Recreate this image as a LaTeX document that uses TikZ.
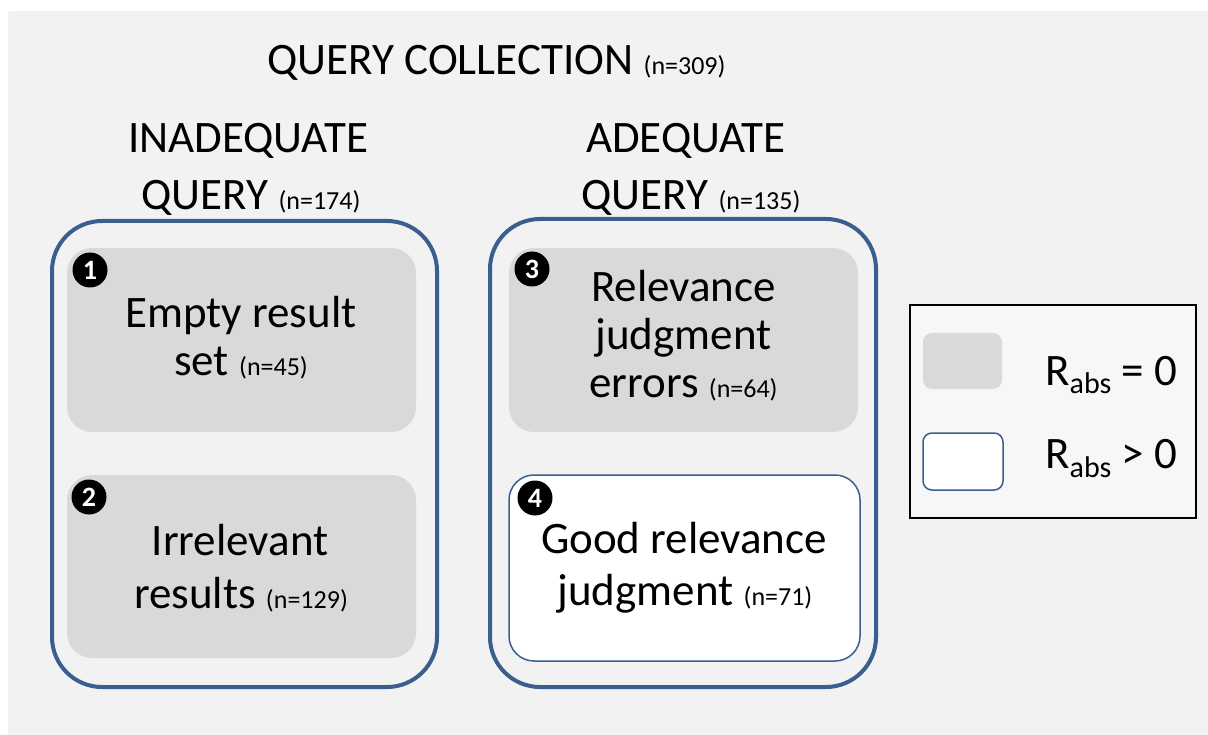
\documentclass[tikz,border=0pt]{standalone}
\usepackage{fontspec}
\setmainfont{Carlito}
\definecolor{bggray}{HTML}{F2F2F2}
\definecolor{boxgray}{HTML}{D9D9D9}
\definecolor{qblue}{RGB}{58,95,142}
\definecolor{legfill}{HTML}{F7F7F7}
\newcommand{\bigtxt}{\fontsize{45}{47}\selectfont}
\newcommand{\smalltxt}{\fontsize{26}{28}\selectfont}
\begin{document}
\begin{tikzpicture}[x=1pt,y=-1pt,
  outerbox/.style={draw=qblue, line width=4pt, rounded corners=50pt, inner sep=0pt},
  innerbox/.style={fill=boxgray, rounded corners=25pt, inner sep=0pt, minimum width=349pt, minimum height=184pt},
  whitebox/.style={fill=white, draw=qblue, line width=1.5pt, rounded corners=25pt, inner sep=0pt, minimum width=351pt, minimum height=186pt},
  txt/.style={font=\bigtxt, anchor=base, inner sep=0pt},
  numdot/.style={circle, fill=black, text=white, inner sep=0pt, minimum size=35pt, font=\fontsize{28}{28}\selectfont\bfseries},
  swatch/.style={rounded corners=9pt, inner sep=0pt, minimum width=80pt, minimum height=57pt}
]
\useasboundingbox (0,0) rectangle (1208,735);
\node[fill=bggray, rounded corners=2pt, anchor=north west, inner sep=0pt, minimum width=1205pt, minimum height=728pt] (bg) at (8,11) {};

% title
\node[txt] (title) at (496.5,75) {QUERY COLLECTION {\smalltxt (n=309)}};

% headers
\node[txt] (inadA) at (248,153) {INADEQUATE};
\node[txt] (inadB) at (251,210) {QUERY {\smalltxt (n=174)}};
\node[txt] (adA) at (686,153) {ADEQUATE};
\node[txt] (adB) at (691,210) {QUERY {\smalltxt (n=135)}};

% outer boxes
\node[outerbox, minimum width=385pt, minimum height=466pt] (left) at (244.5,454) {};
\node[outerbox, minimum width=386pt, minimum height=468pt] (right) at (683,453) {};

% inner boxes
\node[innerbox] (b1) at (241.5,340) {};
\node[innerbox, minimum height=183pt] (b2) at (241.5,566.5) {};
\node[innerbox] (b3) at (683.5,340) {};
\node[whitebox] (b4) at (684.5,568) {};

% numbers
\node[numdot] (n1) at (90,270) {1};
\node[numdot] (n2) at (89,497) {2};
\node[numdot] (n3) at (532,269) {3};
\node[numdot] (n4) at (535,498) {4};

% box texts
\node[txt] (b1a) at (241,328) {Empty result};
\node[txt] (b1b) at (241,375) {set {\smalltxt (n=45)}};
\node[txt] (b2a) at (240,555) {Irrelevant};
\node[txt] (b2b) at (241,608) {results {\smalltxt (n=129)}};
\node[txt] (b3a) at (683.5,302) {Relevance};
\node[txt] (b3b) at (683.5,350) {judgment};
\node[txt] (b3c) at (683.5,397) {errors {\smalltxt (n=64)}};
\node[txt] (b4a) at (684,553) {Good relevance};
\node[txt] (b4b) at (685,605) {judgment {\smalltxt (n=71)}};

% legend
\node[draw=black, line width=1.5pt, fill=legfill, inner sep=0pt, minimum width=286pt, minimum height=213pt] (legend) at (1053,411.5) {};
\node[swatch, fill=boxgray, minimum width=79pt, minimum height=56pt] (sw1) at (962.5,361) {};
\node[swatch, fill=white, draw=qblue, line width=1.5pt] (sw2) at (963,461.5) {};
\node[txt, anchor=base west] (l1) at (1045,385) {R\raisebox{-9pt}{\fontsize{30}{30}\selectfont abs} = 0};
\node[txt, anchor=base west] (l2) at (1045,468) {R\raisebox{-9pt}{\fontsize{30}{30}\selectfont abs} {\textgreater} 0};
\end{tikzpicture}
\end{document}
